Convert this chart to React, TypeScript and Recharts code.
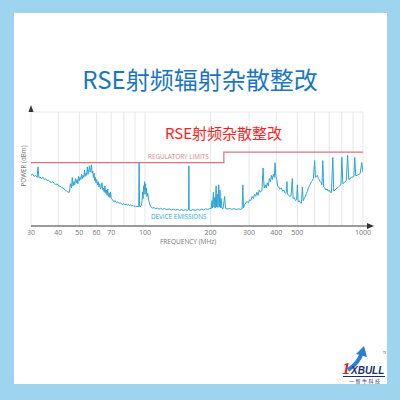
import React from 'react';
import { LineChart, Line, XAxis, YAxis, CartesianGrid, ReferenceDot } from 'recharts';

// x axis (MHz, log scale)
const gridFreqs = [30, 40, 50, 60, 70, 80, 90, 100, 200, 300, 400, 500, 600, 700, 800, 900, 1000];
const labeledFreqs = [30, 40, 50, 60, 70, 100, 200, 300, 400, 500, 1000];
// y axis (dBm), no labels shown
const powerTicks = [-100, -90, -80, -70, -60, -50];

// regulatory limit, steps up at ~230 MHz
const limitFreq = [30, 230, 230, 1000];
const limitDbm = [-70, -70, -65, -65];

// measured emissions [MHz, dBm]
const emissions: [number, number][] = [
  [30, -76], [30.5, -75.5], [31, -76.5], [31.5, -76], [32, -77], [32.3, -72], [32.6, -77],
  [33, -76.8], [33.5, -77.5], [34, -77], [34.5, -78], [35, -77.6], [35.5, -78.5], [36, -78.2],
  [36.6, -79], [37.2, -79.4], [37.8, -79], [38.4, -80], [39, -80.3], [39.6, -80.1], [40.2, -81],
  [40.8, -81.2], [41.4, -81.8], [42, -82], [42.6, -82.5], [43.2, -83.2], [43.8, -83.5], [44.4, -84],
  [45, -84], [45.5, -80], [46, -82], [46.4, -77], [46.8, -81], [47.2, -79], [47.6, -80.5],
  [48, -77.5], [48.4, -79.5], [48.8, -78], [49.2, -80], [49.6, -76.5], [50, -78.5], [50.4, -77],
  [50.8, -78], [51.2, -75.5], [51.6, -77.5], [52, -76], [52.4, -77], [52.8, -73.5], [53.2, -76.5],
  [53.6, -75], [54, -76], [54.4, -72], [54.8, -75.5], [55.2, -74], [55.6, -71.5], [56, -74.5],
  [56.4, -73.5], [56.8, -71], [57.2, -75], [57.6, -74], [58, -77], [58.4, -75], [58.8, -78.5],
  [59.2, -77], [59.6, -79.5], [60, -78], [60.5, -80.5], [61, -79], [61.5, -81.5], [62, -80],
  [62.5, -82.5], [63, -81.5], [63.5, -79.5], [64, -83], [64.5, -82], [65, -84], [65.5, -81],
  [66, -84.5], [66.5, -83], [67, -85.5], [67.5, -82.5], [68, -86], [68.5, -84.5], [69, -86.5],
  [69.5, -84], [70, -87], [71, -87.5], [72, -88.5], [73, -88], [74, -89], [75, -88.6], [76, -89.3],
  [77, -89], [78, -89.5], [79, -89.8], [80, -89.4], [81, -90], [82, -89.6], [83, -90.2], [84, -89.8],
  [85, -90.4], [86, -90], [87, -90.5], [88, -90.2], [89, -90.8], [90, -90.4], [91, -90.9],
  [92, -90.5], [93, -91], [93.6, -90.8], [94, -70], [94.4, -90.6], [95, -91], [96, -90.5],
  [97, -88], [97.5, -84], [98, -87], [98.5, -81], [99, -85], [99.5, -79], [100, -83], [100.5, -80],
  [101, -85], [101.5, -82], [102, -86], [103, -84.5], [104, -88], [105, -89.5], [106, -90.5],
  [107, -91.2], [108, -91.5], [110, -91.3], [112, -91.8], [114, -91.5], [116, -92], [118, -91.6],
  [120, -92.1], [123, -91.8], [126, -92.3], [129, -91.9], [132, -92.4], [135, -92], [138, -92.5],
  [141, -92.1], [144, -92.6], [147, -92.2], [150, -92.7], [153, -92.3], [156, -92.6], [158.5, -92.3],
  [159, -71.5], [159.5, -92.4], [162, -92.7], [166, -92.2], [170, -92.6], [174, -92.1], [178, -92.5],
  [182, -92], [186, -92.4], [190, -91.8], [194, -92.2], [198, -91.7], [201, -91.9], [203, -88],
  [204, -91.5], [206, -84], [207, -91], [209, -86.5], [210, -91.5], [212, -81], [213, -91],
  [215, -85], [216, -91.2], [218, -80.5], [219, -91], [221, -83], [222, -91.3], [224, -87],
  [225, -91.5], [228, -91.8], [232, -86], [234, -91.6], [238, -92], [244, -91.7], [250, -92.1],
  [256, -91.8], [262, -92.2], [268, -91.9], [274, -92.1], [279, -91.8], [281, -80.5], [283, -91.5],
  [286, -90], [290, -89], [294, -88.5], [298, -89], [302, -87.5], [306, -88], [310, -86],
  [314, -87], [318, -85], [322, -86], [326, -84], [330, -85.5], [334, -83], [338, -84], [344, -83],
  [348, -72.5], [352, -82], [356, -80.5], [360, -82], [364, -79.5], [368, -81], [372, -77.5],
  [376, -79], [380, -76], [384, -78], [388, -75.5], [392, -77], [395, -70], [398, -76], [402, -78],
  [406, -81], [410, -81.5], [416, -82.5], [422, -82], [428, -83.5], [434, -83], [440, -84.5],
  [446, -84], [448, -79], [450, -85], [456, -85.5], [462, -86], [468, -85.5], [474, -77.5],
  [478, -87], [484, -86.5], [490, -88], [496, -87.5], [500, -80.5], [504, -88.5], [510, -88],
  [516, -89], [522, -89.2], [527, -81.5], [532, -88], [538, -87], [544, -86], [550, -84.5],
  [556, -83.5], [562, -82], [568, -81], [574, -80], [580, -79], [586, -78.5], [592, -77.5],
  [600, -69], [606, -77], [612, -76.5], [618, -76], [624, -77.5], [630, -78], [636, -79],
  [642, -79.5], [648, -80.5], [654, -69], [660, -81.5], [668, -82], [676, -83], [684, -82.5],
  [692, -83.5], [700, -83], [708, -84], [716, -84.2], [727, -67.5], [734, -83.5], [742, -83],
  [752, -82.5], [762, -82], [772, -81.5], [782, -81], [792, -80.5], [800, -67.5], [808, -80],
  [818, -79.5], [828, -79], [838, -78.5], [850, -66.5], [860, -78], [872, -77.5], [884, -77],
  [896, -76.8], [908, -76.5], [917, -67.5], [926, -76.2], [940, -76], [955, -75.6], [970, -75.2],
  [987, -70], [1000, -74.5],
];

const emissionData = emissions.map(([f, p]) => ({ f, p }));
const limitData = limitFreq.map((f, i) => ({ f, p: limitDbm[i] }));

const XArrow = (props: any) => (
  <g>
    <line x1={props.cx} y1={props.cy} x2={props.cx + 6} y2={props.cy} stroke="#444" strokeWidth={1} />
    <path d={`M${props.cx + 4},${props.cy - 3} L${props.cx + 11},${props.cy} L${props.cx + 4},${props.cy + 3} Z`} fill="#333" />
  </g>
);

const YArrow = (props: any) => (
  <g>
    <line x1={props.cx} y1={props.cy} x2={props.cx} y2={props.cy - 2} stroke="#444" strokeWidth={1} />
    <path d={`M${props.cx - 2.5},${props.cy} L${props.cx},${props.cy - 7} L${props.cx + 2.5},${props.cy} Z`} fill="#333" />
  </g>
);

const txt = (extra: React.CSSProperties): React.CSSProperties => ({
  position: 'absolute',
  whiteSpace: 'nowrap',
  fontFamily: '"Open Sans", "Noto Sans", sans-serif',
  lineHeight: 1,
  ...extra,
});

export default function App() {
  return (
    <div style={{ position: 'fixed', left: 0, top: 0, width: 400, height: 400, background: '#9fd4ee', overflow: 'hidden' }}>
      <div style={{ position: 'absolute', left: 14, top: 13, width: 373, height: 371, background: '#ffffff' }} />

      <div style={txt({ left: 0, width: 400, top: 67, textAlign: 'center', fontSize: 24, color: '#1a76c4', fontFamily: '"Noto Sans CJK SC", sans-serif' })}>
        RSE射频辐射杂散整改
      </div>

      <div style={{ position: 'absolute', left: 0, top: 0 }}>
        <LineChart width={400} height={260} margin={{ top: 112, right: 37, bottom: 4, left: 31 }}>
          <CartesianGrid stroke="#e2e2e2" strokeWidth={0.8} />
          <XAxis
            dataKey="f"
            type="number"
            scale="log"
            domain={[30, 1000]}
            ticks={gridFreqs}
            interval={0}
            allowDataOverflow
            height={30}
            tickSize={0}
            tickMargin={4}
            tickFormatter={(v: number) => (labeledFreqs.includes(v) ? String(v) : '')}
            tick={{ fontSize: 7, fill: '#777', fontFamily: '"Open Sans", sans-serif' }}
            axisLine={{ stroke: '#444', strokeWidth: 1 }}
          />
          <YAxis
            dataKey="p"
            type="number"
            domain={[-100, -46]}
            ticks={powerTicks}
            allowDataOverflow
            width={0}
            tick={false}
            tickLine={false}
            axisLine={{ stroke: '#444', strokeWidth: 1 }}
          />
          <Line
            data={limitData}
            dataKey="p"
            type="linear"
            stroke="#d7737e"
            strokeWidth={1.2}
            dot={false}
            isAnimationActive={false}
          />
          <Line
            data={emissionData}
            dataKey="p"
            type="linear"
            stroke="#2ba4d6"
            strokeWidth={1}
            dot={false}
            isAnimationActive={false}
          />
          <ReferenceDot x={1000} y={-100} ifOverflow="visible" shape={XArrow} />
          <ReferenceDot x={30} y={-46} ifOverflow="visible" shape={YArrow} />
        </LineChart>
      </div>

      <div style={txt({ left: 165, top: 125, fontSize: 15, color: '#ff1e1e', fontFamily: '"Noto Sans CJK SC", sans-serif' })}>
        RSE射频杂散整改
      </div>
      <div style={txt({ left: 148, top: 154, fontSize: 6.3, color: '#d88390' })}>REGULATORY LIMITS</div>
      <div style={txt({ left: 151, top: 214, fontSize: 6.3, color: '#2aa8d8' })}>DEVICE EMISSIONS</div>
      <div style={txt({ left: 160, top: 239, fontSize: 6.5, color: '#777' })}>FREQUENCY (MHz)</div>
      <div style={txt({ left: 24, top: 166, fontSize: 6.3, color: '#777', transform: 'translate(-50%, -50%) rotate(-90deg)' })}>
        POWER (dBm)
      </div>

      {/* logo */}
      <svg style={{ position: 'absolute', left: 338, top: 346 }} width={48} height={32}>
        <path d="M10,24 C16,20 22,14 24,6" stroke="#2a7fd0" strokeWidth={4} fill="none" />
        <path d="M18,8 L26,0 L29,11 Z" fill="#2a7fd0" />
        <text x={45} y={8} fontSize={3} fill="#555">TM</text>
      </svg>
      <div style={txt({ left: 342, top: 360, fontSize: 17, fontWeight: 700, fontStyle: 'italic', color: '#d42a2a', fontFamily: '"Liberation Serif", serif' })}>1</div>
      <div style={txt({ left: 351, top: 366, fontSize: 10, fontWeight: 700, fontStyle: 'italic', color: '#1d2f6b', fontFamily: '"Liberation Sans", sans-serif' })}>
        XBULL
      </div>
      <div style={{ position: 'absolute', left: 343, top: 376, width: 42, height: 1, background: '#1d2f6b' }} />
      <div style={txt({ left: 349, top: 378, fontSize: 5, color: '#1d2f6b', fontFamily: '"Noto Sans CJK SC", sans-serif', letterSpacing: 1.5 })}>
        一智牛科技
      </div>
    </div>
  );
}
